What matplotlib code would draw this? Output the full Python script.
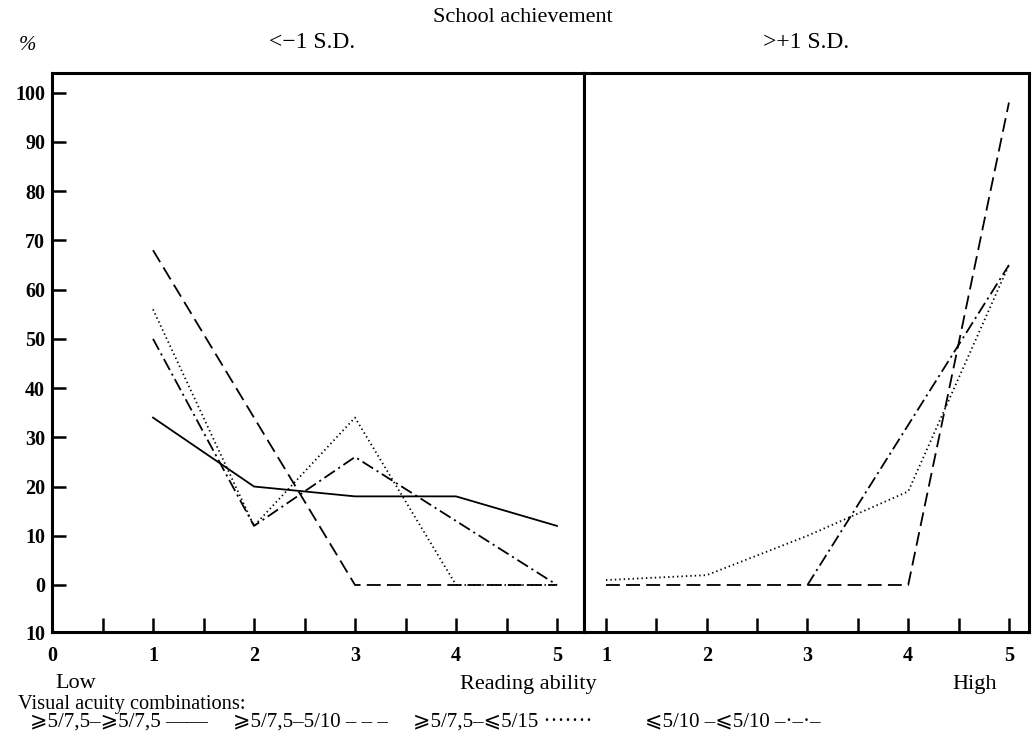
import matplotlib
matplotlib.use("Agg")
import matplotlib.pyplot as plt
import numpy as np

# reading ability classes
reading = [1, 2, 3, 4, 5]

# school achievement < -1 S.D. (percent)
low_solid = [34, 20, 18, 18, 12]
low_dashed = [68, 34, 0, 0, 0]
low_dotted = [56, 12, 34, 0, 0]
low_dashdot = [50, 12, 26, 13, 0]

# school achievement > +1 S.D. (percent)
high_dashed = [0, 0, 0, 0, 98]
high_dotted = [1, 2, 10, 19, 65]
high_dashdot = [np.nan, np.nan, 0, 32.5, 65]

y_ticks = [0, 10, 20, 30, 40, 50, 60, 70, 80, 90, 100]
legend_items = ["⩾5/7,5–⩾5/7,5 ——", "⩾5/7,5–5/10 – – –",
                "⩾5/7,5–⩽5/15 ·······", "⩽5/10 –⩽5/10 –·–·–"]

plt.rcParams['font.family'] = ['Liberation Serif', 'DejaVu Sans']
plt.rcParams['lines.scale_dashes'] = False

W, H = 1033, 753
fig = plt.figure(figsize=(W / 100, H / 100), dpi=100)


def box(l, t, r, b):
    return [l / W, 1 - b / H, (r - l) / W, (b - t) / H]


ax1 = fig.add_axes(box(52, 73, 584, 632))
ax2 = fig.add_axes(box(584, 73, 1029, 632))

styles = {
    'solid': '-',
    'dashed': (0, (10, 4.5)),
    'dotted': (0, (1, 2.2)),
    'dashdot': (0, (9, 3, 1.5, 3)),
}
lw = 1.3

ax1.plot(reading, low_solid, color='black', lw=lw, ls=styles['solid'])
ax1.plot(reading, low_dashed, color='black', lw=lw, ls=styles['dashed'])
ax1.plot(reading, low_dotted, color='black', lw=lw, ls=styles['dotted'])
ax1.plot(reading, low_dashdot, color='black', lw=lw, ls=styles['dashdot'])

ax2.plot(reading, high_dashed, color='black', lw=lw, ls=styles['dashed'])
ax2.plot(reading, high_dotted, color='black', lw=lw, ls=styles['dotted'])
ax2.plot(reading, high_dashdot, color='black', lw=lw, ls=styles['dashdot'])

ymin, ymax = -9.55, 104.0
for ax in (ax1, ax2):
    ax.set_ylim(ymin, ymax)
    for s in ax.spines.values():
        s.set_linewidth(2.2)
    ax.tick_params(direction='in', width=1.8, length=10, labelsize=14.5,
                   pad=10)

ax1.set_xlim(0, 5.267)
ax2.set_xlim(0.782, 5.199)

ax1.set_yticks(y_ticks + [ymin])
ax1.set_yticklabels([str(v) for v in y_ticks] + ['10'])
ax1.tick_params(axis='y', pad=5)
ax2.tick_params(axis='y', left=False, labelleft=False)

xt1 = np.arange(0, 5.01, 0.5)
ax1.set_xticks(xt1)
ax1.set_xticklabels([str(int(v)) if v == int(v) else '' for v in xt1])
xt2 = np.arange(1, 5.01, 0.5)
ax2.set_xticks(xt2)
ax2.set_xticklabels([str(int(v)) if v == int(v) else '' for v in xt2])

for ax in (ax1, ax2):
    for lab in ax.get_xticklabels() + ax.get_yticklabels():
        lab.set_fontweight('bold')


def ftext(x, y, s, size=16, **kw):
    fig.text(x / W, 1 - y / H, s, va='center', fontsize=size, **kw)


ftext(523, 18, "School achievement", ha='center')
ftext(28, 45, "%", size=15, ha='center', style='italic')
ftext(312, 43, "<−1 S.D.", size=17, ha='center')
ftext(806, 43, ">+1 S.D.", size=17, ha='center')

ftext(55, 684, "Low", ha='left')
ftext(597, 684, "Reading ability", ha='right')
ftext(997, 684, "High", ha='right')

ftext(18, 705, "Visual acuity combinations:", size=14.7, ha='left')
for x0, s in zip([30, 233, 413, 645], legend_items):
    ftext(x0, 722, s, size=15, ha='left')

fig.savefig("out.png", dpi=100)
